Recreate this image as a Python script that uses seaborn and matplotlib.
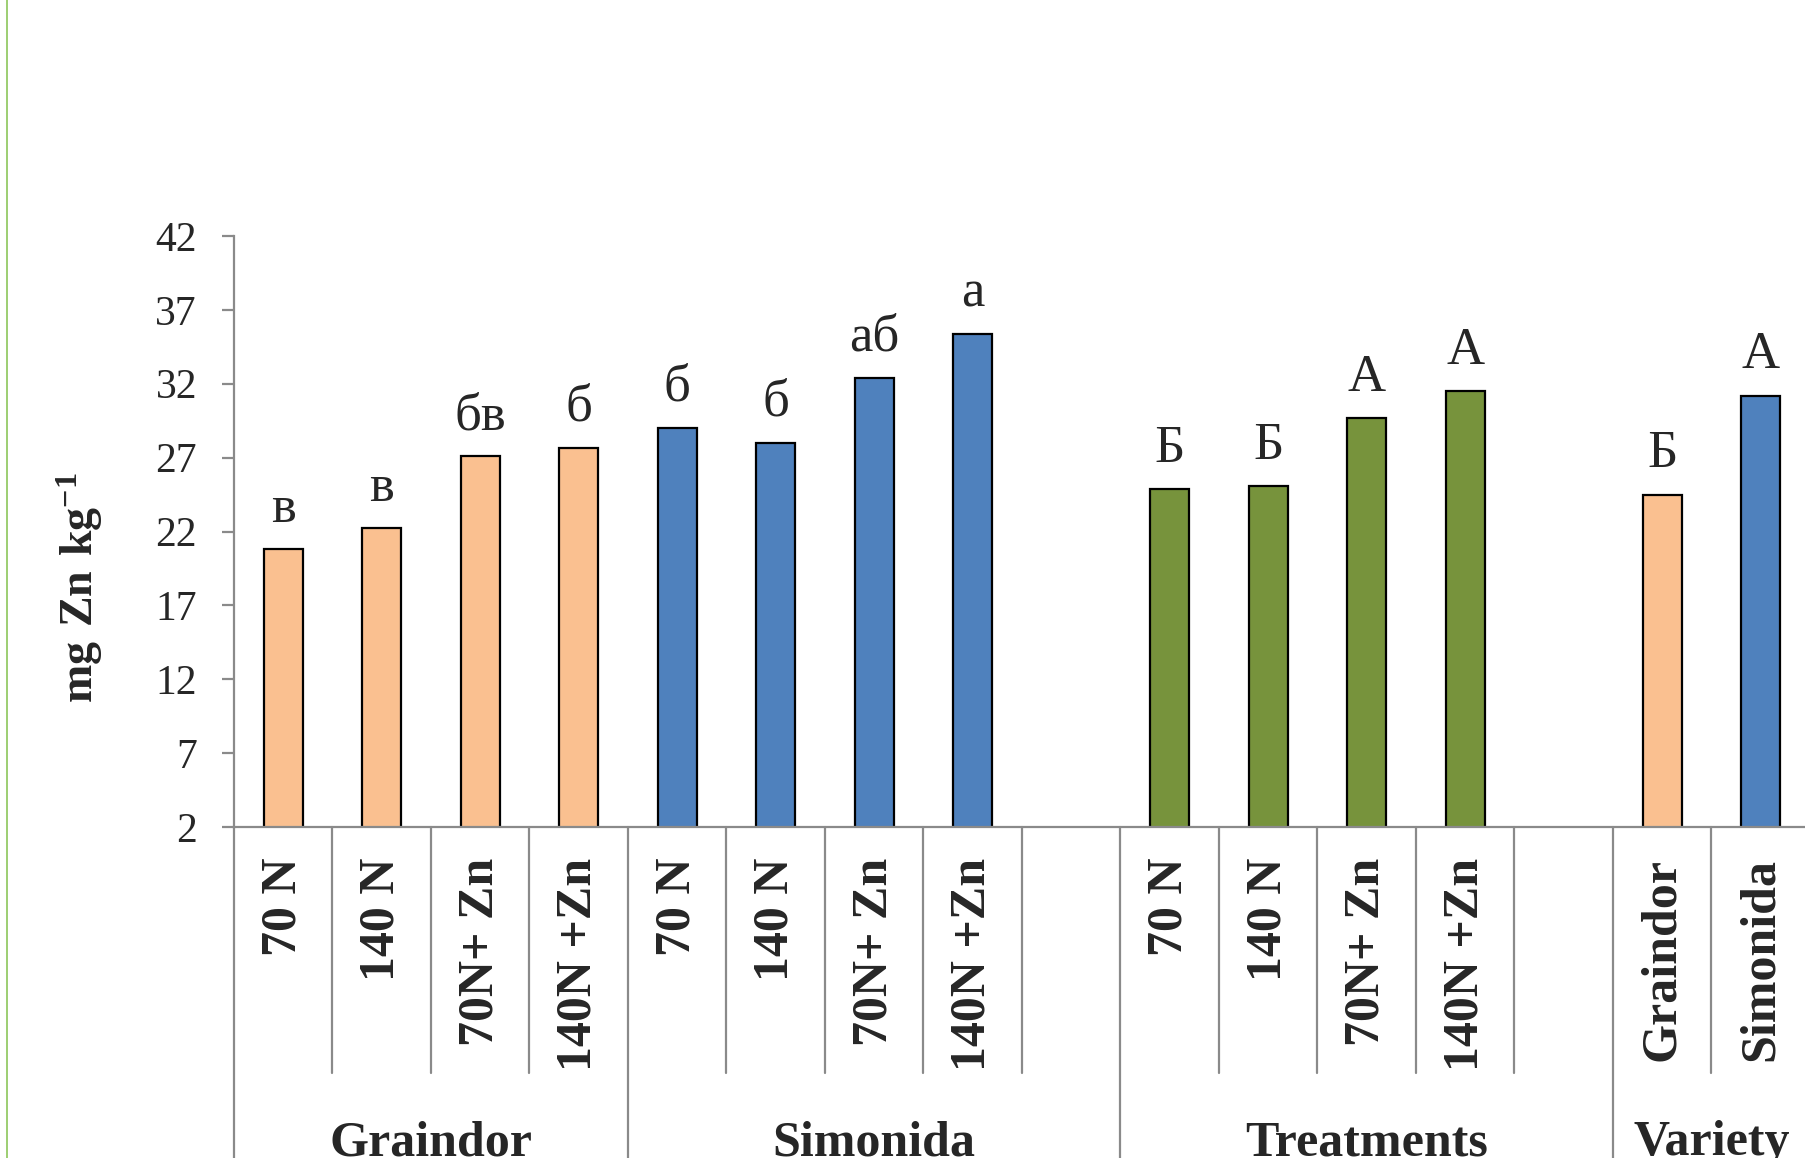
import matplotlib
matplotlib.use("Agg")
import matplotlib.pyplot as plt
import matplotlib.transforms as mtransforms
from matplotlib.lines import Line2D
import pandas as pd
import seaborn as sns

# --- data -------------------------------------------------------------
treatment_labels = ["70 N", "140 N", "70N+ Zn", "140N +Zn"]
variety_labels = ["Graindor", "Simonida"]
group_labels = ["Graindor", "Simonida", "Treatments", "Variety"]

graindor_vals = [20.8, 22.25, 27.1, 27.65]
simonida_vals = [29.0, 28.0, 32.4, 35.4]
treatment_vals = [24.9, 25.1, 29.7, 31.5]
variety_vals = [24.5, 31.2]

graindor_letters = ["в", "в", "бв", "б"]
simonida_letters = ["б", "б", "аб", "а"]
treatment_letters = ["Б", "Б", "А", "А"]
variety_letters = ["Б", "А"]

y_ticks = [2, 7, 12, 17, 22, 27, 32, 37, 42]

# --- long-form table; blank slots separate the groups -----------------
slots, values, kinds, letters = [], [], [], []
for i, v in enumerate(graindor_vals):
    slots.append(f"g{i}"); values.append(v); kinds.append("Graindor"); letters.append(graindor_letters[i])
for i, v in enumerate(simonida_vals):
    slots.append(f"s{i}"); values.append(v); kinds.append("Simonida"); letters.append(simonida_letters[i])
for i, v in enumerate(treatment_vals):
    slots.append(f"t{i}"); values.append(v); kinds.append("Treatments"); letters.append(treatment_letters[i])
for i, v in enumerate(variety_vals):
    slots.append(f"v{i}"); values.append(v); kinds.append(variety_labels[i]); letters.append(variety_letters[i])

df = pd.DataFrame({"slot": slots, "value": values, "kind": kinds, "letter": letters})

order = ([f"g{i}" for i in range(4)] + [f"s{i}" for i in range(4)] + ["gap1"]
         + [f"t{i}" for i in range(4)] + ["gap2"] + ["v0", "v1"])
tick_text = treatment_labels * 2 + [""] + treatment_labels + [""] + variety_labels

palette = {"Graindor": "#FAC090", "Simonida": "#4F81BD", "Treatments": "#77933C"}

# --- style ------------------------------------------------------------
sns.set_style("white")
plt.rcParams["font.family"] = ["Liberation Serif", "DejaVu Serif"]
plt.rcParams["mathtext.fontset"] = "custom"
plt.rcParams["mathtext.rm"] = "Liberation Serif"
plt.rcParams["mathtext.bf"] = "Liberation Serif:bold"

W, H = 1806, 1158
fig = plt.figure(figsize=(W / 100, H / 100), dpi=100)
ax_left, ax_right, ax_top, ax_bottom = 234, 1810, 236, 827
ax = fig.add_axes([ax_left / W, 1 - ax_bottom / H, (ax_right - ax_left) / W, (ax_bottom - ax_top) / H])

sns.barplot(data=df, x="slot", y="value", hue="kind", order=order, palette=palette,
            saturation=1, dodge=False, width=0.4, edgecolor="black", linewidth=1.6,
            legend=False, ax=ax)

ax.set_xlim(-0.5, len(order) - 0.5)
ax.set_ylim(2, 42)
ax.set_yticks(y_ticks)
ax.set_xticks(range(len(order)))
ax.set_xticklabels(tick_text, rotation=90, fontsize=36, fontweight="bold")
ax.set_xlabel("")
ax.set_ylabel("")

axis_grey = "#8a8a8a"
for side in ["top", "right"]:
    ax.spines[side].set_visible(False)
for side in ["left", "bottom"]:
    ax.spines[side].set_color(axis_grey)
    ax.spines[side].set_linewidth(1.6)
ax.tick_params(axis="y", direction="out", length=8.6, width=1.6, color=axis_grey,
               labelsize=30, pad=18, left=True)
ax.tick_params(axis="x", length=0, pad=22)

# significance letters above the bars
pos = {s: i for i, s in enumerate(order)}
for _, row in df.iterrows():
    ax.annotate(row["letter"], (pos[row["slot"]], row["value"]), xytext=(0, 19.5),
                textcoords="offset points", ha="center", va="baseline",
                fontsize=38, annotation_clip=False)

# category dividers below the axis
trans = mtransforms.blended_transform_factory(ax.transData, fig.transFigure)
y_axis_fig = 1 - ax_bottom / H
y_short = 1 - 1073 / H
long_edges = [-0.5, 3.5, 8.5, 13.5]
short_edges = [0.5, 1.5, 2.5, 4.5, 5.5, 6.5, 7.5, 9.5, 10.5, 11.5, 12.5, 14.5]
for xe in long_edges:
    ax.add_line(Line2D([xe, xe], [y_axis_fig, 0], transform=trans, color=axis_grey,
                       lw=1.6, clip_on=False))
for xe in short_edges:
    ax.add_line(Line2D([xe, xe], [y_axis_fig, y_short], transform=trans, color=axis_grey,
                       lw=1.6, clip_on=False))

# group names
group_centers = [1.5, 6.0, 11.0, 14.5]
for name, xc in zip(group_labels, group_centers):
    ax.text(xc, 1 - 1155 / H, name, transform=trans, ha="center", va="baseline",
            fontsize=36, fontweight="bold", clip_on=False)

# y-axis title
fig.text(80 / W, 1 - 588 / H, r"$\mathbf{mg\ Zn\ kg^{-1}}$", rotation=90,
         ha="center", va="center", fontsize=33)

# thin frame line on the left edge
fig.add_artist(Line2D([7 / W, 7 / W], [0, 1], transform=fig.transFigure,
                      color="#8cc65a", lw=1.2))

fig.savefig("out.png", dpi=100)
